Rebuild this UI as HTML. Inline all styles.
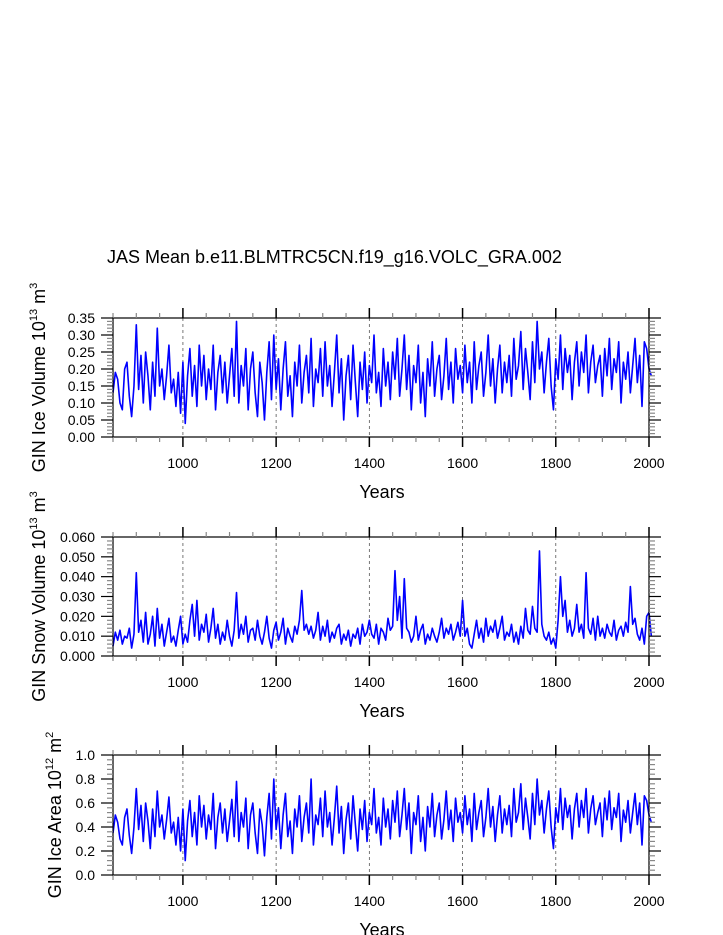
<!DOCTYPE html>
<html><head><meta charset="utf-8"><style>
html,body{margin:0;padding:0;background:#fff}
svg{display:block;font-family:"Liberation Sans",Arial,sans-serif}
</style></head><body>
<svg id="chart" width="723" height="935" viewBox="0 0 723 935" xmlns="http://www.w3.org/2000/svg">
<text x="107" y="263" font-size="18">JAS Mean b.e11.BLMTRC5CN.f19_g16.VOLC_GRA.002</text>
</svg>
<script>
const startYear = 850;
const stepYears = 5;
const iceVolume = [
.13,.19,.17,.10,.08,.20,.22,.12,.06,.15,
.33,.14,.24,.10,.25,.18,.08,.22,.12,.32,
.15,.20,.11,.18,.27,.13,.17,.09,.19,.07,
.22,.04,.18,.26,.12,.21,.09,.27,.15,.24,
.11,.20,.14,.27,.08,.19,.24,.13,.22,.10,
.18,.26,.12,.34,.10,.21,.15,.26,.08,.20,
.25,.13,.06,.22,.16,.05,.19,.28,.11,.30,
.14,.23,.08,.20,.28,.12,.18,.06,.22,.15,
.27,.10,.19,.24,.13,.29,.09,.20,.16,.26,
.12,.28,.15,.21,.09,.19,.30,.13,.23,.05,
.18,.24,.11,.27,.16,.06,.22,.14,.25,.10,
.21,.16,.30,.13,.19,.09,.26,.15,.22,.11,
.25,.17,.29,.12,.20,.30,.14,.24,.08,.21,
.16,.27,.10,.19,.06,.23,.15,.28,.12,.20,
.24,.11,.18,.29,.14,.22,.10,.26,.17,.21,
.13,.27,.16,.22,.10,.28,.14,.21,.25,.12,
.19,.30,.15,.23,.10,.20,.27,.13,.22,.16,
.24,.12,.29,.17,.21,.31,.14,.26,.19,.11,
.28,.16,.34,.20,.25,.13,.22,.29,.15,.08,
.23,.17,.30,.14,.26,.19,.24,.11,.22,.28,
.15,.25,.19,.30,.13,.22,.27,.16,.21,.24,
.12,.26,.18,.29,.14,.23,.19,.28,.10,.22,
.17,.25,.13,.21,.29,.16,.24,.09,.28,.26,
.20,.18];
const snowVolume = [
.005,.012,.008,.013,.006,.010,.009,.014,.004,.011,
.042,.012,.018,.007,.022,.006,.011,.020,.005,.024,
.009,.016,.005,.012,.019,.007,.010,.005,.013,.020,
.006,.011,.007,.018,.026,.010,.028,.008,.016,.012,
.021,.007,.014,.024,.009,.016,.006,.012,.008,.018,
.010,.005,.013,.032,.009,.016,.011,.020,.007,.013,
.014,.008,.018,.010,.006,.012,.020,.009,.004,.013,
.017,.008,.012,.019,.006,.014,.010,.007,.015,.011,
.018,.033,.013,.016,.011,.015,.009,.013,.022,.008,
.015,.010,.018,.007,.012,.009,.014,.016,.006,.011,
.008,.013,.005,.011,.009,.014,.006,.016,.010,.012,
.018,.011,.009,.016,.006,.014,.012,.008,.019,.013,
.015,.043,.018,.030,.009,.039,.014,.012,.007,.010,
.020,.008,.013,.016,.006,.011,.008,.014,.010,.007,
.012,.019,.009,.014,.011,.016,.008,.012,.017,.010,
.028,.010,.014,.006,.004,.011,.018,.009,.014,.007,
.019,.010,.015,.012,.018,.009,.014,.020,.008,.012,
.010,.016,.007,.012,.006,.015,.009,.024,.013,.011,
.025,.014,.012,.053,.016,.010,.008,.012,.006,.009,
.004,.018,.040,.020,.028,.012,.018,.010,.014,.026,
.012,.016,.009,.042,.014,.011,.019,.008,.020,.010,
.014,.009,.016,.012,.010,.018,.008,.013,.015,.010,
.017,.012,.035,.016,.019,.011,.008,.014,.006,.020,
.022,.010];
const iceArea = [
.35,.50,.44,.30,.25,.48,.55,.33,.18,.40,
.72,.38,.58,.28,.60,.45,.22,.55,.32,.70,
.40,.50,.30,.46,.65,.35,.44,.25,.48,.20,
.55,.12,.45,.62,.32,.52,.25,.66,.40,.58,
.30,.50,.38,.68,.22,.48,.60,.35,.55,.28,
.45,.63,.32,.78,.28,.52,.40,.64,.22,.50,
.60,.35,.18,.55,.42,.16,.48,.68,.30,.80,
.38,.56,.22,.50,.68,.32,.45,.18,.55,.40,
.66,.28,.48,.60,.35,.80,.25,.50,.42,.64,
.32,.70,.40,.52,.25,.48,.74,.35,.57,.18,
.46,.60,.30,.66,.42,.20,.55,.38,.62,.28,
.52,.42,.72,.35,.48,.25,.64,.40,.55,.30,
.62,.44,.70,.32,.50,.72,.38,.60,.18,.52,
.42,.66,.28,.48,.20,.57,.40,.68,.32,.50,
.60,.30,.46,.70,.38,.54,.28,.64,.44,.52,
.35,.66,.42,.55,.28,.68,.38,.52,.62,.32,
.48,.72,.40,.57,.28,.50,.66,.35,.55,.42,
.58,.32,.72,.44,.52,.76,.38,.64,.48,.30,
.68,.42,.80,.50,.62,.35,.55,.70,.40,.22,
.56,.44,.72,.38,.64,.48,.58,.30,.55,.68,
.40,.62,.48,.72,.35,.55,.66,.42,.52,.60,
.32,.64,.46,.70,.38,.56,.48,.68,.28,.54,
.44,.62,.35,.52,.68,.42,.60,.25,.66,.62,
.50,.44];
const xTickYears = [1000,1200,1400,1600,1800,2000];
const yTicks1 = ["0.00","0.05","0.10","0.15","0.20","0.25","0.30","0.35"];
const yTicks2 = ["0.000","0.010","0.020","0.030","0.040","0.050","0.060"];
const yTicks3 = ["0.0","0.2","0.4","0.6","0.8","1.0"];

const NS = "http://www.w3.org/2000/svg";
const svg = document.getElementById('chart');
const X0 = 113, X1 = 649, YMIN = 850, YMAX = 2000;
function xs(yr){ return X0 + (yr - YMIN) / (YMAX - YMIN) * (X1 - X0); }
function mk(tag, attrs, parent){ const e = document.createElementNS(NS, tag); for (const k in attrs) e.setAttribute(k, attrs[k]); (parent||svg).appendChild(e); return e; }

function panel(name, top, bottom, vmax, data, ticks, titleHTML, titleX, minorPer){
  const g = mk('g', {});
  
  
  const ys = v => bottom - v / vmax * (bottom - top);
  xTickYears.forEach(yr => {
    const l = mk('line', {x1: xs(yr), x2: xs(yr), y1: top, y2: bottom, stroke: '#555', 'stroke-width': 0.8, 'stroke-dasharray': '3,3'}, g);
    
    
  });
  let d = '';
  data.forEach((v, i) => { d += (i ? 'L' : 'M') + xs(startYear + i * stepYears).toFixed(2) + ',' + ys(v).toFixed(2); });
  const p = mk('path', {d: d, fill: 'none', stroke: '#0000ff', 'stroke-width': 1.6, 'stroke-linejoin': 'round'}, g);
  
  
  const r = mk('rect', {x: X0, y: top, width: X1 - X0, height: bottom - top, fill: 'none', stroke: '#000', 'stroke-width': 1.2}, g);
  
  
  for (let yr = 850; yr <= 2000; yr += 50) {
    const major = xTickYears.indexOf(yr) >= 0;
    const len = major ? 10 : 5;
    mk('line', {x1: xs(yr), x2: xs(yr), y1: top, y2: top - len, stroke: major ? '#000' : '#888', 'stroke-width': major ? 1.5 : 1.2}, g);
    mk('line', {x1: xs(yr), x2: xs(yr), y1: bottom, y2: bottom + len, stroke: major ? '#000' : '#888', 'stroke-width': major ? 1.5 : 1.2}, g);
  }
  xTickYears.forEach(yr => {
    const t = mk('text', {x: xs(yr), y: bottom + 31, 'font-size': 14, 'text-anchor': 'middle'}, g);
    t.textContent = yr;
    
    
  });
  const n = ticks.length - 1;
  for (let i = 0; i <= n * minorPer; i++) {
    const yy = bottom - i / (n * minorPer) * (bottom - top);
    const major = i % minorPer === 0;
    const len = major ? 12 : 6;
    mk('line', {x1: X0, x2: X0 - len, y1: yy, y2: yy, stroke: major ? '#000' : '#888', 'stroke-width': 1.2}, g);
    mk('line', {x1: X1, x2: X1 + len, y1: yy, y2: yy, stroke: major ? '#000' : '#888', 'stroke-width': 1.2}, g);
  }
  ticks.forEach((lab, i) => {
    const t = mk('text', {x: 95, y: ys(parseFloat(lab)) + 5, 'font-size': 14, 'text-anchor': 'end'}, g);
    t.textContent = lab;
    
    
  });
  const xt = mk('text', {x: 382, y: bottom + 61, 'font-size': 18, 'text-anchor': 'middle'}, g);
  xt.textContent = 'Years';
  
  
  const cy = (top + bottom) / 2;
  const yt = mk('text', {x: 0, y: 0, 'font-size': 18, 'text-anchor': 'middle', transform: 'translate(' + titleX + ',' + cy + ') rotate(-90)'}, g);
  yt.innerHTML = titleHTML;
  
  
}
panel('ice-volume', 318, 437, 0.35, iceVolume, yTicks1, 'GIN Ice Volume 10<tspan font-size="11" dy="-8">13</tspan><tspan dy="8"> m</tspan><tspan font-size="11" dy="-8">3</tspan>', 45, 5);
panel('snow-volume', 537, 656, 0.06, snowVolume, yTicks2, 'GIN Snow Volume 10<tspan font-size="11" dy="-8">13</tspan><tspan dy="8"> m</tspan><tspan font-size="11" dy="-8">3</tspan>', 45, 5);
panel('ice-area', 755, 875, 1.0, iceArea, yTicks3, 'GIN Ice Area 10<tspan font-size="11" dy="-8">12</tspan><tspan dy="8"> m</tspan><tspan font-size="11" dy="-8">2</tspan>', 61, 5);
</script>
</body></html>
